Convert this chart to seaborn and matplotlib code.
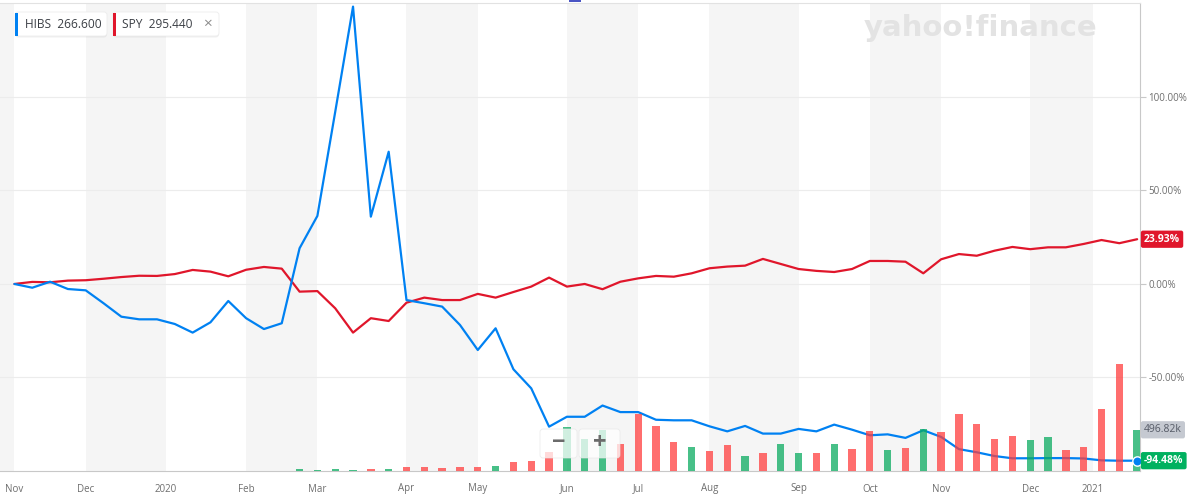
import matplotlib
matplotlib.use("Agg")
import matplotlib.pyplot as plt
import matplotlib.transforms as mtransforms
from matplotlib.patches import FancyBboxPatch, Rectangle
import seaborn as sns
import pandas as pd

# weekly points, Nov 4 2019 .. Jan 18 2021, % change since first week
week_start = pd.date_range("2019-11-04", periods=64, freq="7D")

hibs_pct = [0, -2.0, 1.2, -2.7, -3.4, -10.3, -17.5, -18.9, -18.9, -21.4, -26.0, -20.5, -9.1, -18.3, -24.1, -21.0,
            19.1, 36.4, 92, 148.3, 36, 70.7, -8.6, -10.3, -12.1, -21.9, -35.3, -23.7, -45.6, -55.8, -76.3, -71,
            -71, -65, -68.5, -68.5, -72.6, -72.9, -72.9, -76.1, -78.8, -75.9, -80, -80, -77.5, -78.8, -75.2, -77.9,
            -80.9, -80.4, -82.3, -78.2, -81.8, -88.3, -90.0, -92.0, -93.2, -93.2, -93.1, -93.1, -93.3, -94.3, -94.5, -94.48]

spy_pct = [0, 1.1, 0.9, 1.8, 2.0, 2.8, 3.7, 4.4, 4.3, 5.3, 7.5, 6.6, 4.1, 7.6, 9.1, 8.2,
           -4.1, -3.8, -13, -26, -18.3, -19.8, -10, -7.3, -8.6, -8.6, -5.3, -7.3, -4.3, -1.4, 3.4, -1.4,
           0, -2.8, 1.2, 3.0, 4.3, 3.9, 5.7, 8.4, 9.3, 9.8, 13.4, 10.7, 8.0, 7.0, 6.4, 8.0,
           12.3, 12.3, 11.9, 5.7, 13.2, 16.0, 15.1, 17.8, 19.8, 18.6, 19.6, 19.6, 21.4, 23.5, 21.8, 23.93]

# HIBS weekly volume (thousands) and candle direction
hibs_vol_k = [0] * 16 + [24, 12, 24, 12, 24, 24, 48, 48, 36, 48, 48, 61, 109, 121, 230, 526,
                         384, 493, 324, 687, 542, 345, 285, 241, 309, 181, 212, 321, 212, 212, 321, 264,
                         481, 252, 276, 502, 469, 682, 561, 388, 424, 379, 404, 258, 294, 742, 1287, 496.82]
hibs_dir = (["down"] * 16 +
            ["up", "up", "up", "up", "down", "up", "down", "down", "down", "down", "down", "up",
             "down", "down", "down", "up", "up", "up", "down", "down", "down", "down", "up", "down",
             "down", "up", "down", "up", "up", "down", "up", "down", "down", "up", "down", "up",
             "down", "down", "down", "down", "down", "up", "up", "down", "down", "down", "down", "up"])

month_labels = ["Nov", "Dec", "2020", "Feb", "Mar", "Apr", "May", "Jun", "Jul", "Aug", "Sep",
                "Oct", "Nov", "Dec", "2021"]
month_ticks = [0, 4, 8.5, 13, 17, 22, 26, 31, 35, 39, 44, 48, 52, 57, 60.5]
pct_ticks = [-50, 0, 50, 100]

blue = "#0081f2"
red = "#e0162b"
bar_red = "#ff3e3e"
bar_green = "#0aab60"

W, H = 1188, 499
sns.set_style("white")
plt.rcParams["font.family"] = ["Open Sans", "DejaVu Sans"]

df = pd.DataFrame({"week": range(len(week_start)), "HIBS": hibs_pct, "SPY": spy_pct,
                   "vol": hibs_vol_k, "dir": hibs_dir})

fig = plt.figure(figsize=(W / 100, H / 100), dpi=100)
ax = fig.add_axes([0, 28 / H, 1140 / W, (471 - 2.5) / H])
x_lo, x_hi = -0.81, 63.16

# alternating month shading
ax.axvspan(x_lo, month_ticks[0], color="#f5f5f5", lw=0, zorder=0)
for k in range(1, len(month_ticks) - 1, 2):
    ax.axvspan(month_ticks[k], month_ticks[k + 1], color="#f5f5f5", lw=0, zorder=0)

ax.grid(axis="y", color="#ececec", lw=0.8)
ax.grid(axis="x", visible=False)

sns.lineplot(data=df, x="week", y="SPY", color=red, lw=1.6, ax=ax)
sns.lineplot(data=df, x="week", y="HIBS", color=blue, lw=1.6, ax=ax)

# volume on its own scale, drawn over the lines
axv = ax.twinx()
sns.barplot(data=df, x="week", y="vol", hue="dir", palette={"up": bar_green, "down": bar_red},
            native_scale=True, width=0.41, dodge=False, errorbar=None, legend=False,
            saturation=1, alpha=0.75, linewidth=0, ax=axv)
axv.set_ylim(0, 5647)
axv.set_yticks([])
axv.set_ylabel("")
for s in axv.spines.values():
    s.set_visible(False)

axv.scatter(df["week"].iloc[-1], hibs_pct[-1], transform=ax.transData, s=45, color=blue,
            edgecolor="white", linewidth=1, zorder=6, clip_on=False)

ax.set_xlim(x_lo, x_hi)
ax.set_ylim(-100, 150.5)
ax.set_xticks(month_ticks, labels=month_labels)
ax.set_yticks(pct_ticks, labels=[f"{t:.2f}%" for t in pct_ticks])
ax.yaxis.tick_right()
ax.set_xlabel("")
ax.set_ylabel("")
ax.tick_params(axis="x", length=5, width=0.8, color="#c8c8c8", labelcolor="#6e6e6e", labelsize=7, pad=4)
ax.tick_params(axis="y", length=4, width=0.8, color="#c8c8c8", labelcolor="#6e6e6e", labelsize=7, pad=2)
ax.spines["left"].set_visible(False)
ax.spines["top"].set_color("#e2e2e2")
ax.spines["right"].set_color("#c8c8c8")
ax.spines["bottom"].set_color("#c8c8c8")

# last-value tags on the right axis
tr = mtransforms.blended_transform_factory(ax.transAxes, ax.transData)
trv = mtransforms.blended_transform_factory(axv.transAxes, axv.transData)
tag = dict(ha="left", va="center", fontsize=7.5, clip_on=False, zorder=10)
ax.text(1.0035, spy_pct[-1], f"{spy_pct[-1]:.2f}%", transform=tr, color="white", fontweight="bold",
        bbox=dict(boxstyle="round,pad=0.3,rounding_size=0.2", fc=red, ec="none"), **tag)
axv.text(1.0035, hibs_vol_k[-1], f"{hibs_vol_k[-1]:.2f}k", transform=trv,
         color="#555a66", bbox=dict(boxstyle="round,pad=0.3,rounding_size=0.2", fc="#c5c9d1", ec="none"), **tag)
axv.text(1.0035, hibs_pct[-1], f"{hibs_pct[-1]:.2f}%", transform=tr, color="white", fontweight="bold",
         bbox=dict(boxstyle="round,pad=0.3,rounding_size=0.2", fc="#00b15f", ec="none"), **tag)

# chrome: legend chips, zoom buttons, watermark
ident = mtransforms.IdentityTransform()


def box(x0, y0, x1, y1, fc, ec="none", alpha=1.0, r=3):
    p = FancyBboxPatch((x0, H - y1), x1 - x0, y1 - y0, boxstyle=f"round,pad=0,rounding_size={r}",
                       fc=fc, ec=ec, lw=0.6, alpha=alpha, transform=ident, zorder=4)
    fig.patches.append(p)


for x0, x1, c in [(15, 107, blue), (113, 219, red)]:
    box(x0, 13.5, x1, 37.5, "#000000", alpha=0.06)
    box(x0, 12, x1, 36, "white", ec="#ececec")
    fig.patches.append(Rectangle((x0, H - 35.5), 3, 23, fc=c, ec="none", transform=ident, zorder=5))

chip = dict(ha="left", va="center", fontsize=8.6, color="#3b3f45", zorder=7)
fig.text(25 / W, 1 - 24.5 / H, "HIBS  266.600", **chip)
fig.text(122 / W, 1 - 24.5 / H, "SPY  295.440", **chip)
fig.text(207 / W, 1 - 24.5 / H, "×", ha="center", va="center", fontsize=11, color="#8a8a8a", zorder=7)

box(540, 429, 577, 458, "white", ec="#e6e6e6", alpha=0.75)
box(579, 429, 620, 458, "white", ec="#e6e6e6", alpha=0.75)
btn = dict(ha="center", va="center", fontsize=17, fontweight="bold", color="#6b6b6b", zorder=7)
fig.text(559 / W, 1 - 443 / H, "−", **btn)
fig.text(600 / W, 1 - 443 / H, "+", **btn)

fig.text(980 / W, 1 - 28 / H, "yahoo!finance", ha="center", va="center", fontsize=21,
         fontweight="heavy", color="#e3e3e3", family="DejaVu Sans", zorder=2)
fig.patches.append(Rectangle((569, H - 2), 12, 2, fc="#4a55c4", ec="none", transform=ident, zorder=5))

fig.savefig("out.png", dpi=100)
